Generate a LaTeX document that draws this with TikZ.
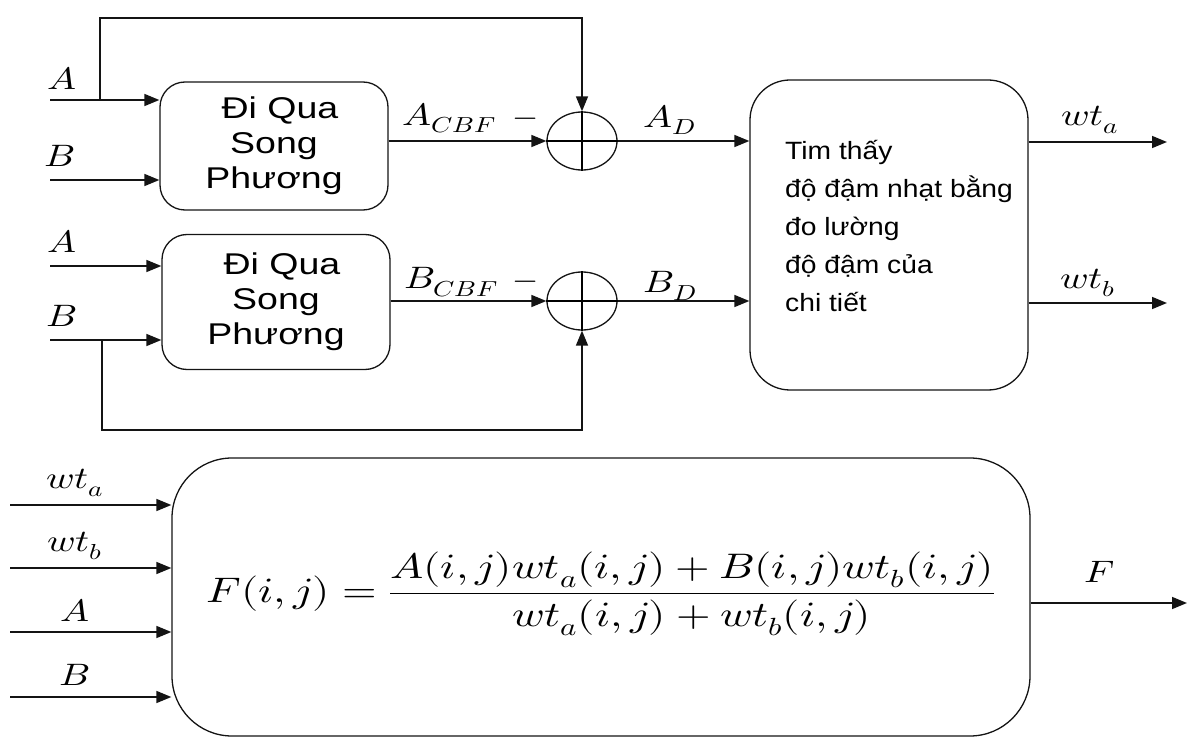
\documentclass[tikz,border=0pt]{standalone}
\usepackage{graphicx}
\usepackage{amsmath}
\usepackage{unicode-math}
\setmathfont{Latin Modern Math}
\newfontfamily\boxfont[FakeStretch=1.25]{Liberation Sans}
\newfontfamily\notefont[FakeStretch=1.13]{Liberation Sans}
\usetikzlibrary{arrows.meta, shapes.geometric, positioning}
\definecolor{WireBlack}{RGB}{20, 20, 20}
\newcommand{\wider}[1]{\scalebox{1.25}[1]{#1}}

\tikzset{
  wire/.style={draw=WireBlack, line width=1.6pt},
  sig/.style={wire, -{Triangle[length=15pt, width=12pt]}},
  procbox/.style={draw=WireBlack, line width=1.3pt, rounded corners=25pt, align=center,
    font=\boxfont\fontsize{30}{35}\selectfont},
  sumnode/.style={ellipse, draw=WireBlack, line width=1.3pt, minimum width=70pt,
    minimum height=58pt, inner sep=0pt},
  lbl/.style={font=\fontsize{31}{36}\selectfont, inner sep=0pt}
}

\begin{document}
\begin{tikzpicture}[x=1pt, y=-1pt]
  \useasboundingbox (0,0) rectangle (1187,738);

  % blocks
  \node[procbox, minimum width=228pt, minimum height=128pt] (box1) at (274,146)
    {\hspace*{12pt}Đi Qua\\Song\\Phương};
  \node[procbox, minimum width=228pt, minimum height=135pt] (box2) at (276,302)
    {\hspace*{12pt}Đi Qua\\Song\\Phương};
  \node[sumnode] (sum1) at (582,141) {};
  \node[sumnode] (sum2) at (582,301) {};
  \draw[line width=1.3pt] (sum1.north) -- (sum1.south) (sum1.west) -- (sum1.east);
  \draw[line width=1.3pt] (sum2.north) -- (sum2.south) (sum2.west) -- (sum2.east);
  \node[procbox, rounded corners=40pt, minimum width=278pt, minimum height=310pt] (det) at (889,235) {};
  \node[align=left, anchor=north west, inner sep=0pt, font=\notefont\fontsize{25}{38}\selectfont]
    (dettext) at (785,140) {Tim thấy\\độ đậm nhạt bằng\\đo lường\\độ đậm của\\chi tiết};
  \node[procbox, rounded corners=60pt, minimum width=858pt, minimum height=278pt] (fuse) at (601,597) {};
  \node[font=\fontsize{35.5}{40}\selectfont, inner sep=0pt] (formula) at ([yshift=3pt]fuse.center)
    {\wider{$\displaystyle F(i,j)=\frac{A(i,j)wt_a(i,j)+B(i,j)wt_b(i,j)}{wt_a(i,j)+wt_b(i,j)}$}};

  % inputs of the first block
  \coordinate (inA1) at (50,100);
  \coordinate (inB1) at (50,180);
  \coordinate (tapA) at (100,100);
  \coordinate (topA) at (100,18);
  \draw[sig] (inA1) -- (inA1 -| box1.west);
  \draw[sig] (inB1) -- (inB1 -| box1.west);
  \draw[sig] (tapA) -- (topA) -| (sum1.north);
  \node[lbl] (lA1) at (62,78) {\wider{$A$}};
  \node[lbl] (lB1) at (60,156) {\wider{$B$}};

  % inputs of the second block
  \coordinate (inA2) at (50,266);
  \coordinate (inB2) at (50,340);
  \coordinate (tapB) at (102,340);
  \coordinate (botB) at (102,430);
  \draw[sig] (inA2) -- (inA2 -| box2.west);
  \draw[sig] (inB2) -- (inB2 -| box2.west);
  \draw[sig] (tapB) -- (botB) -| (sum2.south);
  \node[lbl] (lA2) at (62,241) {\wider{$A$}};
  \node[lbl] (lB2) at (62,316) {\wider{$B$}};

  % differences
  \draw[sig] (box1.east |- sum1.west) -- (sum1.west);
  \draw[sig] (box2.east |- sum2.west) -- (sum2.west);
  \draw[sig] (sum1.east) -- (sum1.east -| det.west);
  \draw[sig] (sum2.east) -- (sum2.east -| det.west);
  \node[lbl] (lACBF) at (449,118) {\wider{$A_{CBF}$}};
  \node[lbl] (lBCBF) at (451,282) {\wider{$B_{CBF}$}};
  \node[lbl] (mA) at (526,122) {$-$};
  \node[lbl] (mB) at (526,285) {$-$};
  \node[lbl] (lAD) at (670,120) {\wider{$A_D$}};
  \node[lbl] (lBD) at (670,286) {\wider{$B_D$}};

  % weights
  \coordinate (outa) at (1167,142);
  \coordinate (outb) at (1167,303);
  \draw[sig] (outa -| det.east) -- (outa);
  \draw[sig] (outb -| det.east) -- (outb);
  \node[lbl] (lwa) at (1090,120) {\wider{$wt_a$}};
  \node[lbl] (lwb) at (1088,283) {\wider{$wt_b$}};

  % fusion
  \foreach \yy/\txt [count=\k] in {505/wt_a, 568/wt_b, 632/A, 697/B} {
    \coordinate (fin\k) at (10,\yy);
    \draw[sig] (fin\k) -- (fin\k -| fuse.west);
    \node[lbl] (lf\k) at (75,\yy-22) {\wider{$\txt$}};
  }
  \coordinate (outF) at (1187,603);
  \draw[sig] (outF -| fuse.east) -- (outF);
  \node[lbl] (lF) at (1100,572) {\wider{$F$}};
\end{tikzpicture}
\end{document}
